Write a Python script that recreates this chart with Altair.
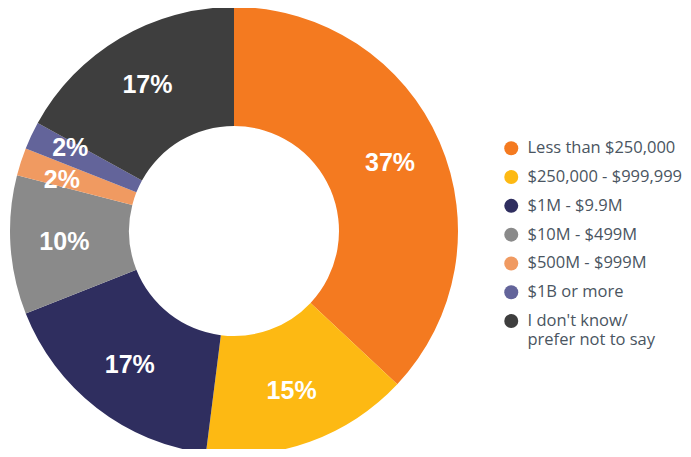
import altair as alt
import pandas as pd

categories = ["Less than $250,000", "$250,000 - $999,999", "$1M - $9.9M",
              "$10M - $499M", "$500M - $999M", "$1B or more",
              "I don't know/ prefer not to say"]
values = [37, 15, 17, 10, 2, 2, 17]
colors = ["#F47A20", "#FDB913", "#2F2E5F", "#8A8A8A", "#F09A61", "#63649A", "#3E3E3E"]

df = pd.DataFrame({
    "category": categories,
    "value": values,
    "order": list(range(len(categories))),
})
df["label"] = df["value"].astype(str) + "%"

CX, CY = 226, 223

base = alt.Chart(df).encode(
    theta=alt.Theta("value:Q", stack=True),
    order=alt.Order("order:Q"),
    x=alt.value(CX),
    y=alt.value(CY),
)

color = alt.Color(
    "category:N",
    scale=alt.Scale(domain=categories, range=colors),
    legend=alt.Legend(
        title=None,
        orient="none",
        legendX=495,
        legendY=132,
        symbolType="circle",
        symbolSize=196,
        symbolStrokeWidth=0,
        labelFont="Open Sans",
        labelFontSize=16.5,
        labelColor="#4A5561",
        labelOffset=8,
        rowPadding=11.8,
        padding=0,
        labelLimit=300,
        labelExpr="datum.label == \"I don't know/ prefer not to say\" ? [\"I don't know/\", 'prefer not to say'] : datum.label",
    ),
)

arcs = base.mark_arc(outerRadius=224, innerRadius=105, stroke=None).encode(color=color)

txt = dict(font="Liberation Sans", fontWeight="bold", fontSize=25, color="white")

big = base.mark_text(radius=170, **txt).encode(
    text=alt.condition("datum.value >= 5", "label:N", alt.value("")))

small_a = base.mark_text(radius=181, dy=-6, **txt).encode(
    text=alt.condition("datum.order == 5", "label:N", alt.value("")))
small_b = base.mark_text(radius=181, dy=5, **txt).encode(
    text=alt.condition("datum.order == 4", "label:N", alt.value("")))

chart = (arcs + big + small_a + small_b).properties(
    width=675, height=441, autosize=alt.AutoSizeParams(type="none"), padding=0
).configure_view(stroke=None)

chart.save("out.html", embed_options={"renderer": "svg", "actions": False})
